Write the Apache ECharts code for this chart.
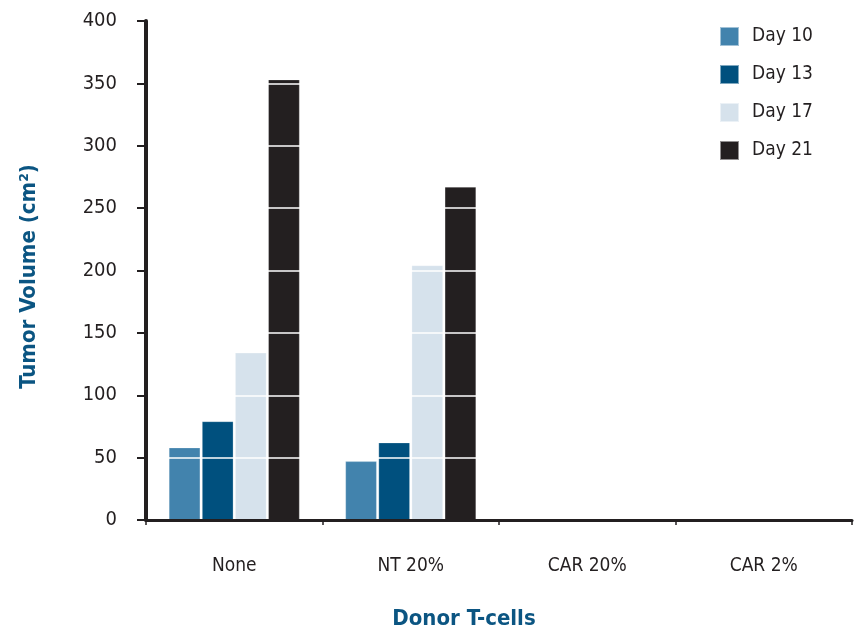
<!DOCTYPE html>
<html>
<head>
<meta charset="utf-8">
<script src="https://cdn.jsdelivr.net/npm/echarts@6/dist/echarts.min.js"></script>
<style>
  html, body { margin: 0; padding: 0; background: #fff; }
  #chart { width: 858px; height: 635px; }
</style>
</head>
<body>
<div id="chart"></div>
<script>
// Tumor volume per donor T-cell group, measured on four days
const categories = ['None', 'NT 20%', 'CAR 20%', 'CAR 2%'];
const seriesNames = ['Day 10', 'Day 13', 'Day 17', 'Day 21'];
const day10 = [58, 47, 0, 0];
const day13 = [79, 62, 0, 0];
const day17 = [134, 204, 0, 0];
const day21 = [353, 267, 0, 0];
const yTicks = [0, 50, 100, 150, 200, 250, 300, 350, 400];

const colors = ['#4283ad', '#00507e', '#d6e2ec', '#231f20'];
const values = [day10, day13, day17, day21];
const FONT = '"DejaVu Sans Condensed", "DejaVu Sans", sans-serif';
const TITLE_BLUE = '#0b5582';

const chart = echarts.init(document.getElementById('chart'), null, { renderer: 'canvas' });

chart.setOption({
  animation: false,
  backgroundColor: '#ffffff',
  textStyle: { fontFamily: FONT },
  grid: { left: 146, right: 6, top: 21, bottom: 114, containLabel: false },
  legend: {
    orient: 'vertical',
    left: 714,
    top: 21,
    icon: 'rect',
    itemWidth: 19,
    itemHeight: 19,
    itemGap: 17,
    data: seriesNames,
    textStyle: { fontFamily: FONT, fontSize: 19, color: '#231f20', padding: [0, 0, 0, 8] }
  },
  xAxis: {
    type: 'category',
    data: categories,
    z: 4,
    axisLine: { show: true, lineStyle: { color: '#231f20', width: 3 } },
    axisTick: { show: true, alignWithLabel: false, length: 5, lineStyle: { color: '#231f20', width: 1.5 } },
    axisLabel: { fontFamily: FONT, fontSize: 19, color: '#231f20', margin: 37 },
    name: 'Donor T-cells',
    nameLocation: 'middle',
    nameGap: 88,
    nameTextStyle: {
      fontFamily: FONT, fontSize: 22, fontWeight: 'bold', color: TITLE_BLUE,
      padding: [0, 70, 0, 0]
    },
    splitLine: { show: false }
  },
  yAxis: {
    type: 'value',
    min: yTicks[0],
    max: yTicks[yTicks.length - 1],
    interval: 50,
    z: 4,
    axisLine: { show: true, lineStyle: { color: '#231f20', width: 4 } },
    axisTick: { show: true, length: 9, lineStyle: { color: '#231f20', width: 2 } },
    axisLabel: { fontFamily: FONT, fontSize: 20, color: '#231f20', margin: 29 },
    splitLine: { show: true, lineStyle: { color: '#ffffff', width: 1.5 } },
    name: 'Tumor Volume (cm²)',
    nameLocation: 'middle',
    nameGap: 106,
    nameRotate: 90,
    nameTextStyle: {
      fontFamily: FONT, fontSize: 22, fontWeight: 'bold', color: TITLE_BLUE,
      padding: [0, 12, 0, 0]
    }
  },
  series: seriesNames.map((name, i) => ({
    name: name,
    type: 'bar',
    data: values[i],
    barGap: '6%',
    barCategoryGap: '26%',
    itemStyle: { color: colors[i], borderColor: 'rgba(255,255,255,0.5)', borderWidth: 0.5 },
    z: 2
  }))
});
</script>
</body>
</html>
